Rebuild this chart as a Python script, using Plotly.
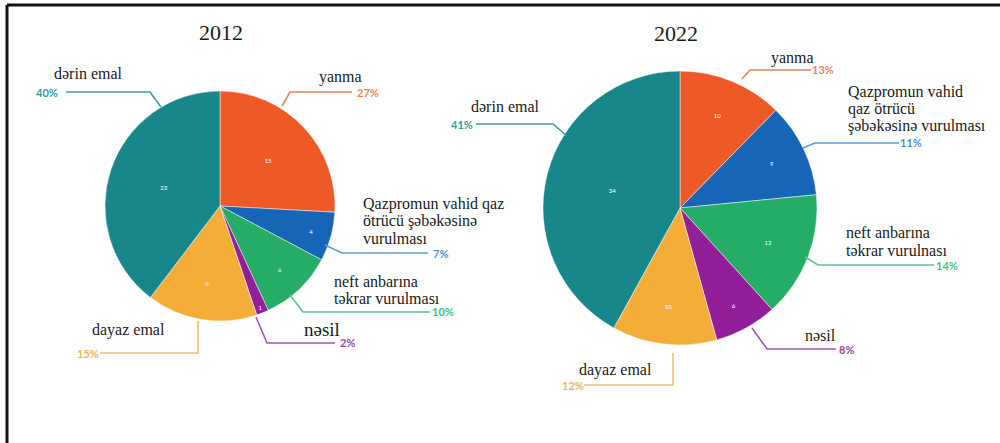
import plotly.graph_objects as go

# ---------------- data ----------------
categories = ["yanma", "Qazpromun vahid qaz ötrücü şəbəkəsinə vurulması",
              "neft anbarına təkrar vurulması", "nəsil", "dayaz emal", "dərin emal"]
values_2012 = [15, 4, 6, 1, 9, 23]
values_2022 = [10, 9, 12, 6, 10, 34]
pct_2012 = ["27%", "7%", "10%", "2%", "15%", "40%"]
pct_2022 = ["13%", "11%", "14%", "8%", "12%", "41%"]
titles = ["2012", "2022"]

# ---------------- style ----------------
slice_colors = ["#EE5A26", "#1665B6", "#25AC66", "#921F99", "#F5AD3A", "#17878C"]
pct_colors = ["#F08558", "#4A92D2", "#3DBF8B", "#9A45AE", "#F2B457", "#2E9DA2"]
line_colors = ["#E9835A", "#5C9BD4", "#5CC49A", "#A256B4", "#F0C070", "#3A9EA3"]

W, H = 1000, 443


def px(x):
    return x / W


def py(y):
    return 1 - y / H


fig = go.Figure()

pies = [
    dict(values=values_2012, cx=220, cy=206, r=115),
    dict(values=values_2022, cx=680, cy=208, r=137),
]
for p in pies:
    fig.add_trace(go.Pie(
        labels=categories, values=p["values"], sort=False, direction="clockwise",
        rotation=0,
        marker=dict(colors=slice_colors, line=dict(color="rgba(255,255,255,0.6)", width=0.8)),
        texttemplate="%{value}", textposition="inside", insidetextorientation="horizontal",
        textfont=dict(size=6, color="white", family="Lato"),
        hoverinfo="label+value+percent", showlegend=False,
        domain=dict(x=[px(p["cx"] - p["r"]), px(p["cx"] + p["r"])],
                    y=[py(p["cy"] + p["r"]), py(p["cy"] - p["r"])]),
    ))

annotations = []
shapes = []

serif = "Liberation Serif"


def text(x, y, s, size=16, anchor="center", color="#1a1a1a"):
    annotations.append(dict(x=px(x), y=py(y), xref="paper", yref="paper", text=s,
                            showarrow=False, xanchor=anchor, yanchor="middle", align="left",
                            font=dict(family=serif, size=size, color=color)))


def lines(x, y0, rows, step=17):
    for i, r in enumerate(rows):
        text(x, y0 + i * step, r, anchor="left")


def pct(x, y, s, color):
    annotations.append(dict(x=px(x), y=py(y), xref="paper", yref="paper",
                            text="<b>" + s + "</b>", showarrow=False, xanchor="center",
                            yanchor="middle",
                            font=dict(family="Lato", size=11, color=color)))


def leader(points, color):
    path = "M " + " L ".join(f"{px(a):.4f},{py(b):.4f}" for a, b in points)
    shapes.append(dict(type="path", path=path, xref="paper", yref="paper",
                       line=dict(color=color, width=1.6)))


text(221, 32, titles[0], size=22)
text(676, 33, titles[1], size=22)

# ---- 2012 labels ----
text(88, 74, "dərin emal")
pct(47, 92, pct_2012[5], pct_colors[5])
leader([(66, 92), (150, 92), (161, 107)], line_colors[5])

text(340, 77, "yanma")
pct(368, 92, pct_2012[0], pct_colors[0])
leader([(282, 106), (290, 92), (352, 92)], line_colors[0])

lines(361, 204, ["Qazpromun vahid qaz", "ötrücü şəbəkəsinə", "vurulması"])
pct(440, 253, pct_2012[1], pct_colors[1])
leader([(325, 245), (342, 253), (428, 253)], line_colors[1])

lines(332, 281, ["neft anbarına", "təkrar vurulması"])
pct(443, 311, pct_2012[2], pct_colors[2])
leader([(290, 295), (303, 312), (430, 312)], line_colors[2])

text(322, 329, "nəsil", size=19)
pct(347, 342, pct_2012[3], pct_colors[3])
leader([(256, 317), (267, 343), (335, 343)], line_colors[3])

text(128, 330, "dayaz emal")
pct(88, 353, pct_2012[4], pct_colors[4])
leader([(198, 321), (198, 353), (100, 353)], line_colors[4])

# ---- 2022 labels ----
text(505, 106, "dərin emal")
pct(462, 124, pct_2022[5], pct_colors[5])
leader([(476, 124), (553, 124), (567, 136)], line_colors[5])

text(792, 58, "yanma")
pct(823, 70, pct_2022[0], pct_colors[0])
leader([(742, 79), (750, 70), (811, 70)], line_colors[0])

lines(846, 92, ["Qazpromun vahid", "qaz ötrücü", "şəbəkəsinə vurulması"])
pct(911, 142, pct_2022[1], pct_colors[1])
leader([(803, 148), (815, 143), (899, 143)], line_colors[1])

lines(844, 233, ["neft anbarına", "təkrar vurulnası"])
pct(947, 265, pct_2022[2], pct_colors[2])
leader([(805, 257), (818, 265), (934, 265)], line_colors[2])

text(820, 335, "nəsil")
pct(846, 349, pct_2022[3], pct_colors[3])
leader([(752, 328), (767, 349), (836, 349)], line_colors[3])

text(615, 370, "dayaz emal")
pct(573, 385, pct_2022[4], pct_colors[4])
leader([(673, 353), (673, 385), (584, 385)], line_colors[4])

shapes.append(dict(type="line", xref="paper", yref="paper", x0=px(7), x1=1, y0=py(5), y1=py(5),
                   line=dict(color="#111", width=3)))
shapes.append(dict(type="line", xref="paper", yref="paper", x0=px(7), x1=px(7), y0=py(5), y1=0,
                   line=dict(color="#111", width=3)))

fig.update_layout(
    width=W, height=H, margin=dict(l=0, r=0, t=0, b=0),
    paper_bgcolor="white", plot_bgcolor="white",
    annotations=annotations, shapes=shapes,
)

fig.write_html("out.html")
